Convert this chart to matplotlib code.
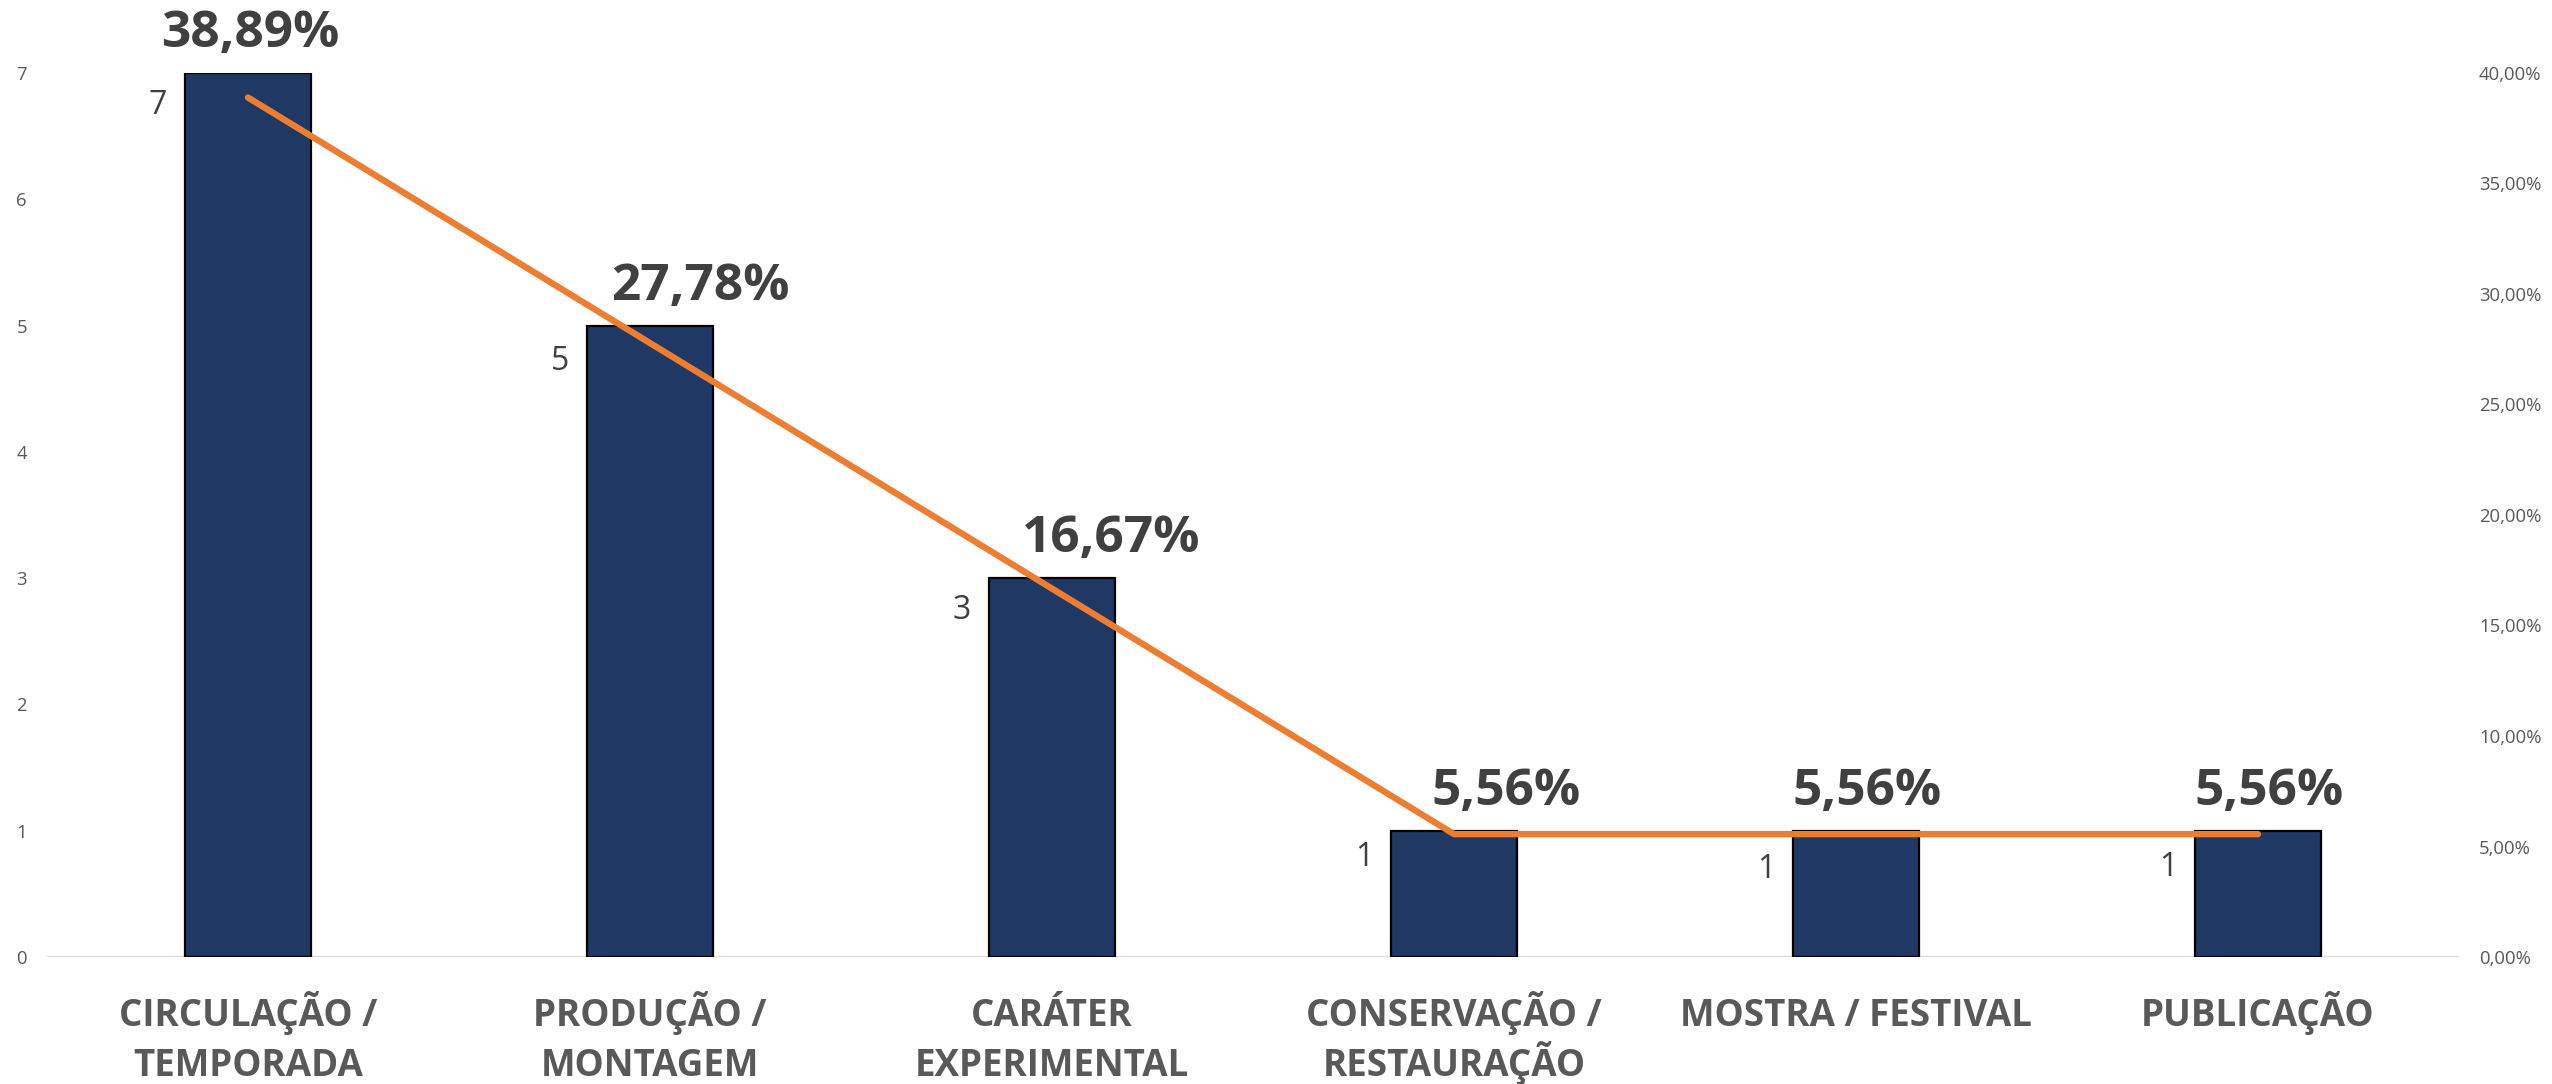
import matplotlib
matplotlib.use("Agg")
import matplotlib.pyplot as plt
from matplotlib.ticker import FuncFormatter, MultipleLocator, NullFormatter

# --- DATA ---
categories = [
    "CIRCULAÇÃO /\nTEMPORADA",
    "PRODUÇÃO /\nMONTAGEM",
    "CARÁTER\nEXPERIMENTAL",
    "CONSERVAÇÃO /\nRESTAURAÇÃO",
    "MOSTRA / FESTIVAL",
    "PUBLICAÇÃO",
]
counts = [7, 5, 3, 1, 1, 1]
shares = [0.3889, 0.2778, 0.1667, 0.0556, 0.0556, 0.0556]

# --- STYLE ---
BAR_COLOR = "#203864"
LINE_COLOR = "#ED7D31"
DARK_TEXT = "#404040"
AXIS_TEXT = "#595959"
BASE_COLOR = "#D9D9D9"

# label nudges in pixels (percent labels were moved by hand in the original)
pct_dx = [2, 50, 59, 52, 11, 11]
count_dy = [-33, -36, -32, -27, -39, -37]
cat_baselines = [69, 119]  # px below the x axis, one per text line

plt.rcParams['font.family'] = ['Open Sans', 'DejaVu Sans']

PX = 0.72  # points per pixel at dpi 100


def pct_text(v):
    return f"{v * 100:.2f}%".replace(".", ",")


fig = plt.figure(figsize=(25.52, 10.84), dpi=100)
ax = fig.add_axes([47 / 2552, 127 / 1084, 2412 / 2552, 884 / 1084])
ax2 = ax.twinx()

xs = list(range(len(categories)))
bar_w = 0.313

ax.bar(xs, counts, width=bar_w, color=BAR_COLOR, edgecolor="black", linewidth=1.6, zorder=2)
ax2.plot(xs, shares, color=LINE_COLOR, linewidth=4.6, solid_capstyle="round", zorder=3)

ax.set_xlim(-0.5, 5.5)
ax.set_ylim(0, 7)
ax2.set_ylim(0, 0.40)

# left axis
ax.yaxis.set_major_locator(MultipleLocator(1))
ax.tick_params(axis="y", length=0, pad=14.4, labelsize=13.3, labelcolor=AXIS_TEXT)

# right axis
ax2.yaxis.set_major_locator(MultipleLocator(0.05))
ax2.yaxis.set_major_formatter(FuncFormatter(lambda v, p: pct_text(v)))
ax2.tick_params(axis="y", length=0, pad=14.4, labelsize=13.3, labelcolor=AXIS_TEXT)

# categories: each line placed on its own baseline so 1- and 2-line labels line up
ax.set_xticks(xs)
ax.xaxis.set_major_formatter(NullFormatter())
ax.tick_params(axis="x", length=0)
for i, name in enumerate(categories):
    for j, part in enumerate(name.split("\n")):
        ax.annotate(part, xy=(i, 0), xycoords=ax.get_xaxis_transform(),
                    xytext=(0, -cat_baselines[j] * PX), textcoords="offset points",
                    ha="center", va="baseline", fontsize=26.5, fontweight="bold",
                    color=AXIS_TEXT, annotation_clip=False)

for a in (ax, ax2):
    for side in ("top", "left", "right", "bottom"):
        a.spines[side].set_visible(False)
ax.axhline(0, color=BASE_COLOR, linewidth=1.6, zorder=1)

# count labels, left of each bar
for i, c in enumerate(counts):
    ax.annotate(str(c), xy=(i - bar_w / 2, c), xytext=(-18 * PX, count_dy[i] * PX),
                textcoords="offset points", ha="right", va="center",
                fontsize=23, color=DARK_TEXT)

# percentage labels above each bar
for i, c in enumerate(counts):
    ax.annotate(pct_text(shares[i]), xy=(i, c), xytext=(pct_dx[i] * PX, 39 * PX),
                textcoords="offset points", ha="center", va="center",
                fontsize=37, fontweight="bold", color=DARK_TEXT)

fig.savefig("out.png", dpi=100)
